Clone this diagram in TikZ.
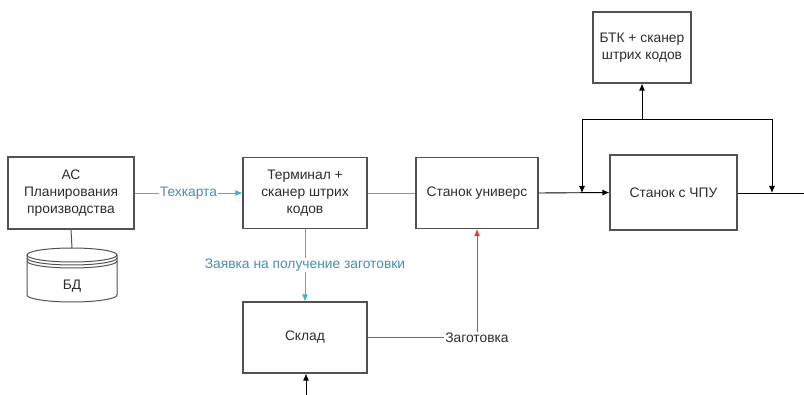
\documentclass[tikz,border=0pt]{standalone}
\usepackage{fontspec}
\setmainfont{Liberation Sans}
\usetikzlibrary{arrows.meta}
\definecolor{boxc}{RGB}{85,80,80}
\definecolor{txtc}{RGB}{45,45,45}
\definecolor{bluec}{RGB}{70,175,205}
\definecolor{bluet}{RGB}{75,140,175}
\definecolor{redc}{RGB}{225,60,60}
\tikzset{
  fnt/.style={font=\fontsize{13.8}{17}\selectfont},
  blk/.style={draw=boxc, line width=1.1pt, fill=white, align=center, fnt, text=txtc, inner sep=2pt},
  conn/.style={line width=0.9pt, draw=black},
  bconn/.style={line width=0.9pt, draw=bluec},
  rconn/.style={line width=0.9pt, draw=redc},
  arr/.style={-{Latex[length=7pt,width=6pt]}},
  lbl/.style={fnt, fill=white, inner sep=1pt}
}
\begin{document}
\begin{tikzpicture}[x=1pt,y=-1pt]
\useasboundingbox (0,0) rectangle (804,395);
% nodes
\node[blk, minimum width=126pt, minimum height=72pt] (as) at (71,193) {АС\\Планирования\\производства};
\node[blk, minimum width=124pt, minimum height=71pt] (term) at (305,193) {Терминал +\\сканер штрих\\кодов};
\node[blk, minimum width=122pt, minimum height=71pt] (univ) at (477,193) {Станок универс};
\node[blk, minimum width=127pt, minimum height=75pt] (cnc) at (673.5,192.5) {Станок с ЧПУ};
\node[blk, minimum width=98pt, minimum height=71pt] (btk) at (642,47.5) {БТК + сканер\\штрих кодов};
\node[blk, minimum width=124pt, minimum height=71pt] (sklad) at (305,337.5) {Склад};
% database cylinder
\begin{scope}[draw=boxc, line width=1pt]
  \fill[white] (27,255) -- (27,295) arc[start angle=180, end angle=360, x radius=45, y radius=-7] -- (117,255) -- cycle;
  \draw (27,255) -- (27,295) arc[start angle=180, end angle=360, x radius=45, y radius=-7] -- (117,255);
  \draw[fill=white] (72,255) ellipse[x radius=45, y radius=7];
  \draw (27,258) arc[start angle=180, end angle=360, x radius=45, y radius=-7];
  \draw (27,261) arc[start angle=180, end angle=360, x radius=45, y radius=-7];
\end{scope}
\node[fnt, text=txtc] (bd) at (72,286) {БД};
\coordinate (dbtop) at (72,248);
\draw[draw=boxc, line width=1pt] (as.south) -- (dbtop);
% blue connectors
\draw[bconn, arr] (as.east) -- (term.west) node[midway, lbl, text=bluet] (tk) {Техкарта};
\draw[bconn] (term.east) -- (univ.west);
\draw[bconn, arr] (term.south) -- (sklad.north) node[pos=0.5, lbl, text=bluet] (zayavka) {Заявка на получение заготовки};
% red connector
\coordinate (zr) at (477,337.5);
\draw[rconn] (sklad.east) -- (zr);
\draw[rconn, arr] (zr) -- (univ.south);
\node[lbl, text=txtc] (zag) at (477,337.5) {Заготовка};
% black connectors
\draw[conn, arr] (univ.east) -- (cnc.west);
\coordinate (ltop) at (582,119);
\coordinate (rtop) at (772,119);
\coordinate (lbot) at (582,193);
\coordinate (rbot) at (772,193);
\coordinate (btkb) at (642,119);
\coordinate (outr) at (804,193);
\draw[conn] (lbot |- ltop) -- (rtop);
\draw[conn, arr] (ltop) -- (lbot);
\draw[conn, arr] (rtop) -- (rbot);
\draw[conn, arr] (btkb) -- (btk.south);
\draw[conn] (cnc.east |- outr) -- (outr);
\coordinate (skin) at (306,395);
\draw[conn, arr] (skin) -- (sklad.south -| skin);
\end{tikzpicture}
\end{document}
